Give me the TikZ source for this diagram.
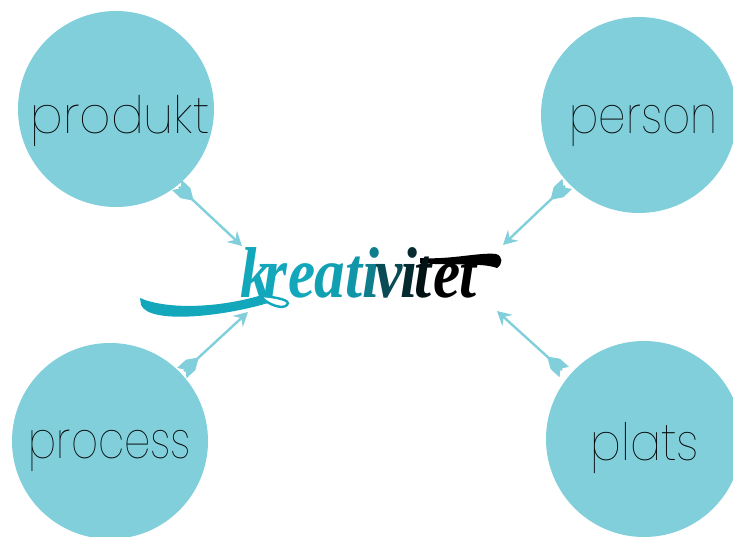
\documentclass[tikz,border=0pt]{standalone}
\usepackage{fontspec}
\setmainfont{Poppins}
\newfontfamily\thinfont{Poppins Thin}
\newfontfamily\scriptface{Liberation Serif Bold Italic}
\usetikzlibrary{arrows.meta}
\definecolor{circ}{HTML}{80CFDB}
\definecolor{teal}{HTML}{12A7BB}
\tikzset{
  x=1pt,y=-1pt,
  topic/.style={circle,fill=circ,minimum size=196pt,inner sep=0pt},
  word/.style={anchor=base,inner sep=0pt,font=\thinfont\fontsize{46}{46}\selectfont,yscale=1.12,text=black},
  conn/.style={draw=circ,line width=2.4pt,-{Stealth[length=14pt,width=15pt,inset=5pt]}},
  fletch/.pic={\fill[circ] (-3,-7)--(9,-7)--(18,-1.3)--(18,1.3)--(9,7)--(-3,7)--(2,0)--cycle;},
  lt/.style={anchor=base,inner sep=0pt,xscale=.85,font=\scriptface\fontsize{72}{72}\selectfont},
}
\begin{document}
\begin{tikzpicture}
\useasboundingbox (0,0) rectangle (733,536);
\node[topic] (c1) at (116,109) {};
\node[topic] (c2) at (639,115) {};
\node[topic] (c3) at (110,441) {};
\node[topic] (c4) at (644,439) {};
\node[word,xscale=1.06] (w1) at (120,133) {produkt};
\node[word,xscale=.95] (w2) at (643.5,133) {person};
\node[word,xscale=.91] (w3) at (110,458) {process};
\node[word] (w4) at (645,460) {plats};
\coordinate (a1) at (179,187); \coordinate (b1) at (242,246);
\coordinate (a2) at (565,186); \coordinate (b2) at (503,245);
\coordinate (a3) at (184,371); \coordinate (b3) at (248,312);
\coordinate (a4) at (562,370); \coordinate (b4) at (497,311);
\foreach \i in {1,2,3,4}{
  \path[conn] (a\i) -- (b\i) pic[pos=0,sloped,allow upside down]{fletch};
}
% swash under the word
\fill[teal] (140,298) .. controls (165,309) and (215,309) .. (262,295)
  -- (268,303) .. controls (225,316) and (150,325) .. (141,305) -- cycle;
\draw[teal,line width=2.4pt] (262,296) .. controls (275,297) and (292,300) .. (287,305)
  .. controls (282,310) and (268,304) .. (262,298);
% swash through the closing letters
\fill[black] (420,258) .. controls (450,260) and (480,252) .. (496,254)
  .. controls (503,256) and (503,264) .. (497,268)
  .. controls (480,262) and (450,266) .. (420,263) -- cycle;
\node[lt,text=teal] (k1) at (256,297) {k};
\node[lt,text=teal] (k2) at (275,297) {r};
\node[lt,text=teal] (k3) at (302,297) {e};
\node[lt,text=teal!95!black] (k4) at (330,297) {a};
\node[lt,text=teal!90!black] (k5) at (354,297) {t};
\node[lt,text=teal!75!black] (k6) at (371,297) {i};
\node[lt,text=teal!45!black] (k7) at (389,297) {v};
\node[lt,text=teal!25!black] (k8) at (409,297) {i};
\node[lt,text=teal!10!black] (k9) at (423,297) {t};
\node[lt,text=black] (k10) at (447,297) {e};
\node[lt,text=black] (k11) at (468,297) {t};
\end{tikzpicture}
\end{document}
